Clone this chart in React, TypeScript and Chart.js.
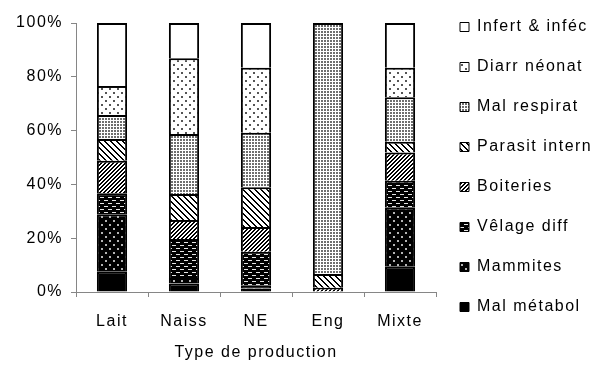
import React, { useEffect, useRef } from 'react';
import { Chart, registerables } from 'chart.js';

Chart.register(...registerables);

// ---- data ----
const categories = ['Lait', 'Naiss', 'NE', 'Eng', 'Mixte'];
const yTickLabels = ['0%', '20%', '40%', '60%', '80%', '100%'];
const xAxisTitle = 'Type de production';

// stacked from bottom to top (percent of each production type)
const malMetabol = [7.5, 3.2, 1.3, 0, 9.4];
const mammites = [21.4, 2.0, 1.0, 0, 21.9];
const velageDiff = [7.8, 14.5, 12.7, 0, 10.1];
const boiteries = [12.1, 7.1, 9.2, 1.6, 10.5];
const parasitIntern = [8.1, 9.6, 14.7, 5.1, 4.0];
const malRespirat = [8.9, 22.3, 20.3, 93.3, 16.5];
const diarrNeonat = [10.8, 28.2, 24.2, 0, 11.0];
const infertInfec = [23.4, 13.1, 16.6, 0, 16.6];

const seriesLabels = [
  'Mal métabol',
  'Mammites',
  'Vêlage diff',
  'Boiteries',
  'Parasit intern',
  'Mal respirat',
  'Diarr néonat',
  'Infert & inféc',
];
const seriesValues = [
  malMetabol,
  mammites,
  velageDiff,
  boiteries,
  parasitIntern,
  malRespirat,
  diarrNeonat,
  infertInfec,
];

// ---- patterns ----
function tile(
  w: number,
  h: number,
  bg: string,
  fg: string,
  test: (x: number, y: number) => boolean
): CanvasPattern | string {
  const c = document.createElement('canvas');
  c.width = w;
  c.height = h;
  const g = c.getContext('2d');
  if (!g) return bg;
  g.fillStyle = bg;
  g.fillRect(0, 0, w, h);
  g.fillStyle = fg;
  for (let y = 0; y < h; y++) {
    for (let x = 0; x < w; x++) {
      if (test(x, y)) g.fillRect(x, y, 1, 1);
    }
  }
  return g.createPattern(c, 'repeat') || bg;
}

function makeFills() {
  const inRange = (v: number, a: number, b: number) => v >= a && v <= b;
  return [
    '#000000', // Mal métabol
    tile(8, 8, '#000000', '#b4b4b4', (x, y) =>
      (inRange(x, 1, 2) && inRange(y, 1, 2)) || (inRange(x, 5, 6) && inRange(y, 5, 6))
    ), // Mammites
    tile(8, 6, '#000000', '#e6e6e6', (x, y) =>
      (y === 1 && inRange(x, 0, 3)) || (y === 4 && inRange(x, 4, 7))
    ), // Vêlage diff
    tile(4, 4, '#ffffff', '#000000', (x, y) => (x + y) % 4 < 2), // Boiteries
    tile(6, 6, '#ffffff', '#000000', (x, y) => (x - y + 6) % 6 < 2), // Parasit intern
    tile(3, 3, '#ffffff', '#6e6e6e', (x, y) => x < 2 && y < 2), // Mal respirat
    tile(8, 8, '#ffffff', '#555555', (x, y) =>
      (inRange(x, 1, 2) && inRange(y, 1, 2)) || (inRange(x, 5, 6) && inRange(y, 5, 6))
    ), // Diarr néonat
    '#ffffff', // Infert & inféc
  ];
}

const spacingPlugin = {
  id: 'letterSpacing',
  beforeUpdate(chart: any) {
    chart.ctx.letterSpacing = '1.5px';
  },
  beforeDraw(chart: any) {
    chart.ctx.letterSpacing = '1.5px';
  },
};

export default function App() {
  const canvasRef = useRef<HTMLCanvasElement | null>(null);

  useEffect(() => {
    if (!canvasRef.current) return;
    const fills = makeFills();
    const font = { family: '"Liberation Sans", Arial, sans-serif', size: 16 };
    const axisGray = '#868686';

    const chart = new Chart(canvasRef.current, {
      type: 'bar',
      data: {
        labels: categories,
        datasets: seriesLabels.map((label, i) => ({
          label,
          data: seriesValues[i],
          backgroundColor: fills[i] as any,
          borderColor: '#000000',
          borderWidth: 2,
          borderSkipped: 'start',
          barPercentage: 0.42,
          categoryPercentage: 1,
        })),
      },
      options: {
        animation: false,
        responsive: true,
        maintainAspectRatio: false,
        layout: { padding: 0 },
        font,
        color: '#000000',
        scales: {
          x: {
            stacked: true,
            grid: {
              display: true,
              offset: true,
              drawOnChartArea: false,
              drawTicks: true,
              tickLength: 5,
              color: axisGray,
            },
            border: { display: true, color: axisGray, width: 1 },
            ticks: { color: '#000000', font, padding: 15, maxRotation: 0 },
            title: {
              display: true,
              text: xAxisTitle,
              color: '#000000',
              font,
              padding: { top: 0, bottom: 2.4 },
            },
            afterFit: (s: any) => {
              s.height = 73;
            },
          },
          y: {
            stacked: true,
            min: 0,
            max: 100,
            grid: {
              display: true,
              drawOnChartArea: false,
              drawTicks: true,
              tickLength: 5,
              color: axisGray,
            },
            border: { display: true, color: axisGray, width: 1 },
            ticks: {
              stepSize: 20,
              color: '#000000',
              font,
              padding: 8,
              callback: (_v: any, idx: number) => yTickLabels[idx],
            },
            afterFit: (s: any) => {
              s.width = 76;
            },
          },
        },
        plugins: {
          title: {
            display: true,
            text: '',
            padding: 0,
            font: { size: 10, lineHeight: 2.8 },
          },
          tooltip: { enabled: false },
          legend: {
            display: true,
            position: 'right',
            align: 'start',
            reverse: true,
            maxWidth: 158,
            labels: {
              boxWidth: 9,
              boxHeight: 9,
              padding: 24,
              color: '#000000',
              font,
              generateLabels: (c: any) =>
                (Chart.defaults.plugins.legend.labels as any)
                  .generateLabels(c)
                  .map((l: any) => ({ ...l, lineWidth: 1, strokeStyle: '#000000' })),
            },
          },
        },
      },
      plugins: [spacingPlugin],
    } as any);

    return () => chart.destroy();
  }, []);

  return (
    <div
      style={{
        position: 'absolute',
        left: 0,
        top: -5,
        width: 594,
        height: 370,
        background: '#ffffff',
      }}
    >
      <canvas ref={canvasRef} />
    </div>
  );
}
